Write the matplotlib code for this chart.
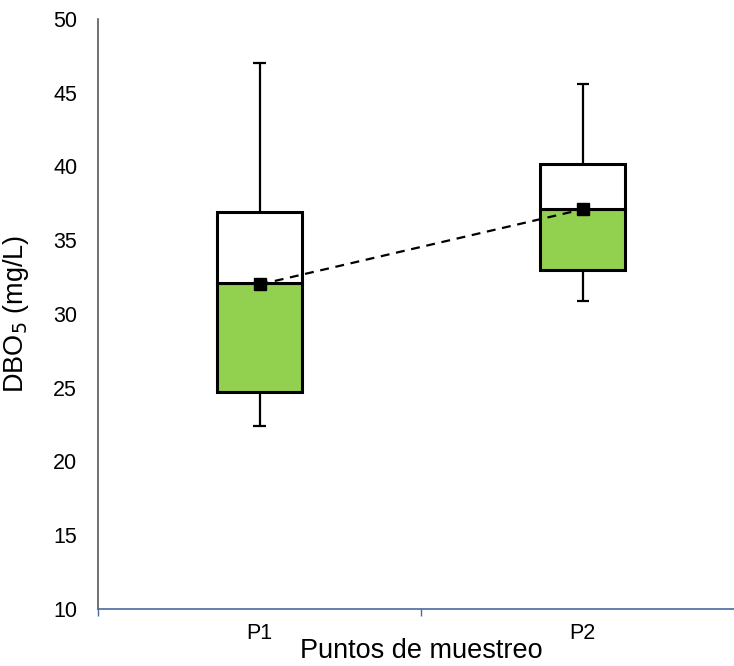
import numpy as np
import matplotlib.pyplot as plt

plt.rcParams['font.family'] = ['Liberation Sans', 'DejaVu Sans']

# Box plot summary per sampling point (mg/L)
puntos = ['P1', 'P2']
whisker_low = [22.4, 30.9]
q1 = [24.7, 33.0]
median = [32.1, 37.1]
q3 = [36.9, 40.2]
whisker_high = [47.0, 45.6]
mean = [32.0, 37.1]

x = np.arange(len(puntos))
box_w = 0.263
cap_w = 0.038

fig = plt.figure(figsize=(7.34, 6.66), dpi=100)
ax = fig.add_axes([0.1335, 0.0856, 0.8808, 0.8859])

# lower half green, upper half white
ax.bar(x, np.array(median) - np.array(q1), bottom=q1, width=box_w,
       color='#92D050', edgecolor='black', linewidth=2.2, zorder=2)
ax.bar(x, np.array(q3) - np.array(median), bottom=median, width=box_w,
       color='white', edgecolor='black', linewidth=2.2, zorder=2)

# whiskers and caps
ax.vlines(x, q3, whisker_high, color='black', linewidth=1.6, zorder=1)
ax.vlines(x, whisker_low, q1, color='black', linewidth=1.6, zorder=1)
ax.hlines(whisker_high, x - cap_w / 2, x + cap_w / 2, color='black', linewidth=1.6)
ax.hlines(whisker_low, x - cap_w / 2, x + cap_w / 2, color='black', linewidth=1.6)

# mean markers joined by dashed line
ax.plot(x, mean, color='black', linestyle=(0, (4, 3)), linewidth=1.6,
        marker='s', markersize=9, zorder=3)

ax.set_xlim(-0.5, 1.5)
ax.set_ylim(10, 50)
ax.set_yticks(np.arange(10, 51, 5))
ax.tick_params(axis='y', length=0, labelsize=15.5, pad=15)

ax.set_xticks(x)
ax.set_xticklabels(puntos)
ax.set_xticks([-0.5, 0.5, 1.5], minor=True)
ax.tick_params(axis='x', which='major', length=0, labelsize=15.5, pad=10)
ax.tick_params(axis='x', which='minor', length=5, width=1, color='#4A6AA0', direction='out')

for s in ['top', 'right']:
    ax.spines[s].set_visible(False)
ax.spines['left'].set_color('#595959')
ax.spines['left'].set_linewidth(1.2)
ax.spines['bottom'].set_color('#4A6AA0')
ax.spines['bottom'].set_linewidth(1.2)

ax.set_xlabel('Puntos de muestreo', fontsize=19.5)
ax.set_ylabel('DBO$_5$ (mg/L)', fontsize=19.5)
ax.xaxis.set_label_coords(0.5, -0.05)
ax.yaxis.set_label_coords(-0.103, 0.5)

fig.savefig('out.png', dpi=100)
